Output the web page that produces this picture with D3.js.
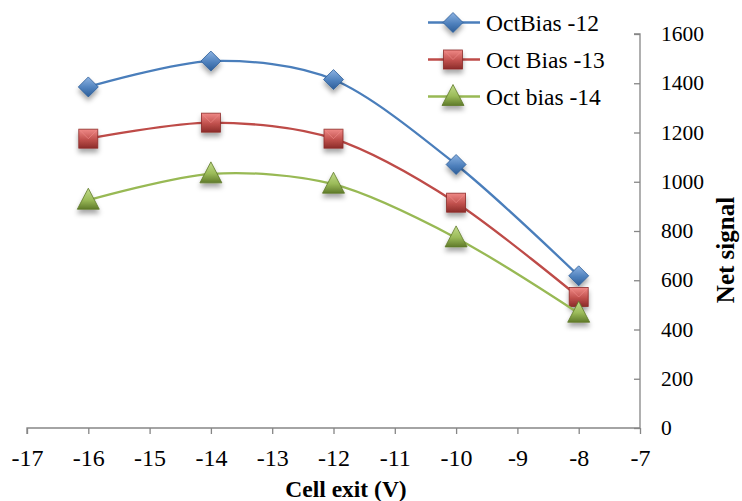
<!DOCTYPE html>
<html>
<head>
<meta charset="utf-8">
<script src="https://cdn.jsdelivr.net/npm/d3@7"></script>
<style>
  body { margin: 0; background: #fff; }
  svg text { font-family: "Liberation Serif", "Times New Roman", serif !important; }
</style>
</head>
<body>
<svg id="chart"></svg>
<script>
// data
const cellExit = [-16, -14, -12, -10, -8];
const bias12 = [1385, 1490, 1415, 1070, 618];
const bias13 = [1175, 1240, 1175, 915, 532];
const bias14 = [925, 1032, 990, 772, 466];
const seriesNames = ["OctBias -12", "Oct Bias -13", "Oct bias -14"];
const xTicks = [-17, -16, -15, -14, -13, -12, -11, -10, -9, -8, -7];
const yTicks = [0, 200, 400, 600, 800, 1000, 1200, 1400, 1600];

const width = 742, height = 501;
const svg = d3.select("#chart").attr("width", width).attr("height", height);

const xScale = d3.scaleLinear().domain([-17, -7]).range([27, 640]);
const yScale = d3.scaleLinear().domain([0, 1600]).range([428, 34]);

const series = [
  { name: seriesNames[0], values: bias12, line: "#4a7ebb", fill: "#4f81bd", light: "#8db3e2", dark: "#2c5d98", shape: "diamond" },
  { name: seriesNames[1], values: bias13, line: "#be4b48", fill: "#c0504d", light: "#f08a87", dark: "#8c2c2a", shape: "square" },
  { name: seriesNames[2], values: bias14, line: "#98b954", fill: "#9bbb59", light: "#c3dc8c", dark: "#5f7a2a", shape: "triangle" }
];

const defs = svg.append("defs");
const shadow = defs.append("filter").attr("id", "shadow")
  .attr("x", "-50%").attr("y", "-50%").attr("width", "200%").attr("height", "220%");
shadow.append("feDropShadow")
  .attr("dx", 0).attr("dy", 4).attr("stdDeviation", 2.5)
  .attr("flood-color", "#000").attr("flood-opacity", 0.35);

series.forEach((s, i) => {
  const g = defs.append("linearGradient").attr("id", "grad" + i)
    .attr("x1", 0).attr("y1", 0).attr("x2", 0).attr("y2", 1);
  g.append("stop").attr("offset", "0%").attr("stop-color", s.light);
  g.append("stop").attr("offset", "55%").attr("stop-color", s.fill);
  g.append("stop").attr("offset", "100%").attr("stop-color", s.dark);
});

// axes
const axisColor = "#868686";
const xAxis = d3.axisBottom(xScale).tickValues(xTicks).tickSize(6).tickFormat(d3.format("d"));
const xg = svg.append("g").attr("transform", `translate(0,${yScale(0)})`).call(xAxis);
xg.select(".domain").attr("stroke", axisColor).attr("stroke-width", 1.3).attr("d", `M${xScale(-17)},6V0H${xScale(-7)}`);
xg.selectAll(".tick line").attr("stroke", axisColor).attr("stroke-width", 1.3);
xg.selectAll(".tick text")
  .attr("y", 38).attr("dy", null)
  .style("font-size", "24px").attr("fill", "#000")
  .text(d => d < 0 ? "-" + Math.abs(d) : d);

const yAxis = d3.axisLeft(yScale).tickValues(yTicks).tickSize(6).tickFormat("");
const yg = svg.append("g").attr("transform", `translate(${xScale(-7)},0)`).call(yAxis);
yg.select(".domain").attr("stroke", axisColor).attr("stroke-width", 1.3).attr("d", `M-6,${yScale(1600)}H0V${yScale(0)}`);
yg.selectAll(".tick line").attr("stroke", axisColor).attr("stroke-width", 1.3);

svg.append("g").selectAll("text")
  .data(yTicks)
  .join("text")
    .attr("x", 661)
    .attr("y", d => yScale(d) + 7)
    .style("font-size", "21.5px")
    .text(d => d);

svg.append("text")
  .attr("x", 346).attr("y", 497)
  .attr("text-anchor", "middle").attr("font-weight", "bold")
  .style("font-size", "23.5px")
  .text("Cell exit (V)");

svg.append("text")
  .attr("transform", `translate(734,250) rotate(-90)`)
  .attr("text-anchor", "middle").attr("font-weight", "bold")
  .style("font-size", "25px")
  .text("Net signal");

// markers
function drawMarker(sel, s, i) {
  if (s.shape === "diamond") {
    sel.append("path").attr("d", "M0,-10L10,0L0,10L-10,0Z")
      .attr("fill", `url(#grad${i})`).attr("stroke", s.dark).attr("stroke-width", 0.8);
  } else if (s.shape === "square") {
    sel.append("rect").attr("x", -9.5).attr("y", -9.5).attr("width", 19).attr("height", 19)
      .attr("fill", `url(#grad${i})`).attr("stroke", s.dark).attr("stroke-width", 0.8);
    sel.append("path").attr("d", "M-9,-9L0,0L9,-9").attr("fill", "none")
      .attr("stroke", s.light).attr("stroke-width", 0.8).attr("opacity", 0.8);
  } else {
    sel.append("path").attr("d", "M0,-12L11,9L-11,9Z")
      .attr("fill", `url(#grad${i})`).attr("stroke", s.dark).attr("stroke-width", 0.8);
  }
}

const line = d3.line()
  .x(d => xScale(d[0]))
  .y(d => yScale(d[1]))
  .curve(d3.curveCardinal.tension(0.1));

series.forEach((s, i) => {
  const pts = cellExit.map((x, j) => [x, s.values[j]]);
  svg.append("path")
    .datum(pts)
    .attr("fill", "none")
    .attr("stroke", s.line)
    .attr("stroke-width", 2.3)
    .attr("d", line);

  svg.append("g").selectAll("g")
    .data(pts)
    .join("g")
      .attr("transform", d => `translate(${xScale(d[0])},${yScale(d[1])})`)
      .attr("filter", "url(#shadow)")
      .each(function() { drawMarker(d3.select(this), s, i); });
});

// legend
const legend = svg.append("g");
series.forEach((s, i) => {
  const ly = 22.5 + i * 37;
  const row = legend.append("g").attr("transform", `translate(0,${ly})`);
  row.append("line").attr("x1", 428).attr("x2", 480).attr("y1", 0).attr("y2", 0)
    .attr("stroke", s.line).attr("stroke-width", 2.3);
  const m = row.append("g").attr("transform", "translate(453,0)").attr("filter", "url(#shadow)");
  drawMarker(m, s, i);
  row.append("text").attr("x", 486).attr("y", 8).style("font-size", "23.5px").text(s.name);
});
</script>
</body>
</html>
